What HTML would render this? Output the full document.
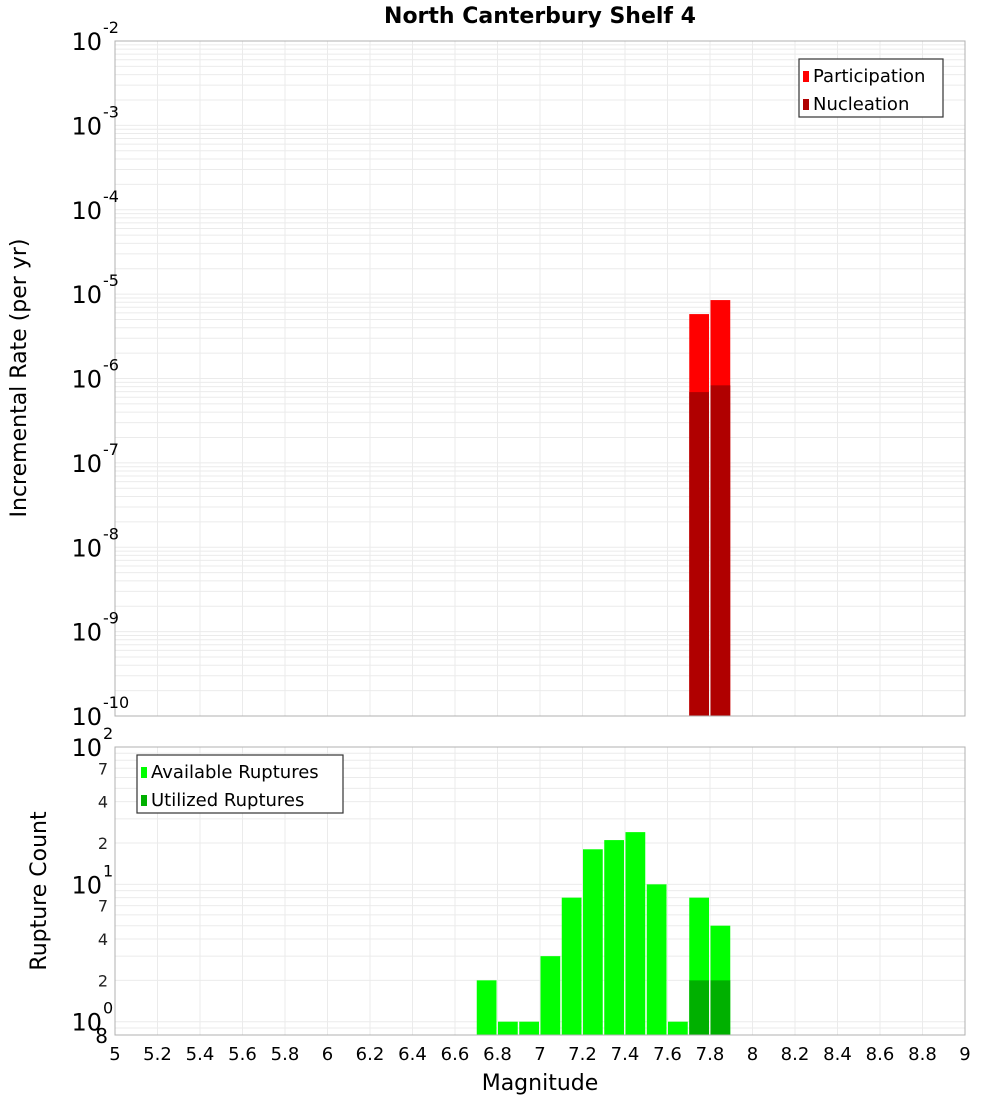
<!DOCTYPE html>
<html><head><meta charset="utf-8"><style>
body{margin:0;background:#fff}
svg{display:block;font-family:"DejaVu Sans","Liberation Sans",sans-serif}
</style></head><body>
<svg id="c" width="1000" height="1100" xmlns="http://www.w3.org/2000/svg"></svg>
<script>
const mags=[6.75,6.85,6.95,7.05,7.15,7.25,7.35,7.45,7.55,7.65,7.75,7.85];
const available=[2,1,1,3,8,18,21,24,10,1,8,5];
const utilMags=[7.75,7.85];
const utilized=[2,2];
const rateMags=[7.75,7.85];
const participation=[5.8e-6,8.5e-6];
const nucleation=[6.9e-7,8.3e-7];
const xTicks=[5,5.2,5.4,5.6,5.8,6,6.2,6.4,6.6,6.8,7,7.2,7.4,7.6,7.8,8,8.2,8.4,8.6,8.8,9];
const topExp=[-2,-3,-4,-5,-6,-7,-8,-9,-10];
const botExp=[2,1,0];
const botMinor=[7,4,2];

const svg=document.getElementById('c');const NS='http://www.w3.org/2000/svg';
function el(t,a,p){const e=document.createElementNS(NS,t);for(const k in a)e.setAttribute(k,a[k]);(p||svg).appendChild(e);return e;}
const X0=115,X1=965;
const x=v=>X0+(v-5)/(9-5)*(X1-X0);
const T0=41,T1=716;
const yT=v=>T0+(-2-Math.log10(v))/8*(T1-T0);
const B0=747,B1=1035,bmin=0.8,bmax=100;
const yB=v=>B0+(Math.log10(bmax)-Math.log10(v))/(Math.log10(bmax)-Math.log10(bmin))*(B1-B0);

// title
let t=el('text',{x:540,y:23,'text-anchor':'middle','font-size':22,'font-weight':'bold'});t.textContent='North Canterbury Shelf 4';


function grid(yf,top,bot,lo,hi){
  const g=el('g',{stroke:'#ebebeb','stroke-width':1});
  
  for(const v of xTicks){el('line',{x1:x(v),x2:x(v),y1:top,y2:bot},g);}
  for(let e=lo;e<hi;e++)for(let m=1;m<10;m++){const yy=yf(m*Math.pow(10,e));if(yy>=top-0.5&&yy<=bot+0.5)el('line',{x1:X0,x2:X1,y1:yy,y2:yy},g);}
}
grid(yT,T0,T1,-10,-2);
grid(yB,B0,B1,-1,2);

// top bars
function bar(m,v,yf,base,col,name){
  const r=el('rect',{x:x(m-0.05)+0.5,y:yf(v),width:x(m+0.05)-x(m-0.05)-1.5,height:base-yf(v),fill:col});
  
}
rateMags.forEach((m,i)=>bar(m,participation[i],yT,T1,'#ff0000','participation-bar'));
rateMags.forEach((m,i)=>bar(m,nucleation[i],yT,T1,'#b00000','nucleation-bar'));
mags.forEach((m,i)=>bar(m,available[i],yB,B1,'#00ff00','available-bar'));
utilMags.forEach((m,i)=>bar(m,utilized[i],yB,B1,'#00b000','utilized-bar'));

// frames
let f=el('rect',{x:X0,y:T0,width:X1-X0,height:T1-T0,fill:'none',stroke:'#b0b0b0'});

f=el('rect',{x:X0,y:B0,width:X1-X0,height:B1-B0,fill:'none',stroke:'#b0b0b0'});


// y tick labels
function pow(e,yy,name){
  const g=el('text',{x:102,y:yy+9,'text-anchor':'end','font-size':24});
  g.textContent='10';
  const s=el('text',{x:103,y:yy-8,'font-size':16});s.textContent=String(e);
  
}
topExp.forEach(e=>pow(e,yT(Math.pow(10,e)),'top-y-tick'));
botExp.forEach(e=>pow(e,yB(Math.pow(10,e)),'bottom-y-tick'));
for(let e=0;e<2;e++)botMinor.forEach(m=>{const s=el('text',{x:108,y:yB(m*Math.pow(10,e))+6,'text-anchor':'end','font-size':16,fill:'#222'});s.textContent=String(m);
  });
let s8=el('text',{x:108,y:B1+8,'text-anchor':'end','font-size':20});s8.textContent='8';


// x tick labels
xTicks.forEach(v=>{const s=el('text',{x:x(v),y:1060,'text-anchor':'middle','font-size':18});s.textContent=String(v);
  });
t=el('text',{x:540,y:1090,'text-anchor':'middle','font-size':22});t.textContent='Magnitude';

t=el('text',{x:0,y:0,'text-anchor':'middle','font-size':22,transform:'translate(26,378) rotate(-90)'});t.textContent='Incremental Rate (per yr)';

t=el('text',{x:0,y:0,'text-anchor':'middle','font-size':22,transform:'translate(46,891) rotate(-90)'});t.textContent='Rupture Count';


// legends
function legend(lx,ly,w,items,name){
  const g=el('g',{});
  el('rect',{x:lx,y:ly,width:w,height:58,fill:'#fff',stroke:'#333','stroke-width':1.2},g);
  items.forEach((it,i)=>{
    el('rect',{x:lx+4,y:ly+12+i*28,width:6,height:11,fill:it[1]},g);
    const s=el('text',{x:lx+14,y:ly+23+i*28,'font-size':18},g);s.textContent=it[0];
    
  });
}
legend(799,59,144,[['Participation','#ff0000'],['Nucleation','#b00000']],'top-legend');
legend(137,755,206,[['Available Ruptures','#00ff00'],['Utilized Ruptures','#00b000']],'bottom-legend');
</script>
</body></html>
